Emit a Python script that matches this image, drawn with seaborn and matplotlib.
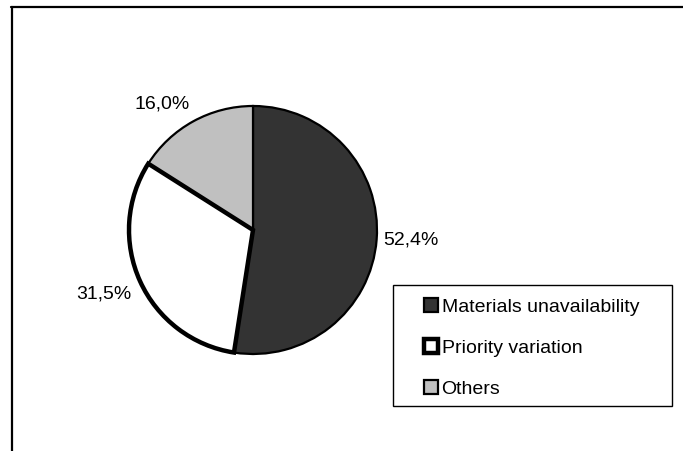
import matplotlib
matplotlib.use("Agg")
import matplotlib.pyplot as plt
from matplotlib.lines import Line2D
from matplotlib.patches import Rectangle
import seaborn as sns

categories = ["Materials unavailability", "Priority variation", "Others"]
values = [52.4, 31.5, 16.0]
value_labels = ["52,4%", "31,5%", "16,0%"]
colors = ["#333333", "#ffffff", "#c0c0c0"]
edge_widths = [1.6, 3.2, 1.6]

sns.set_theme(style="white")
plt.rcParams["font.family"] = ["Liberation Sans", "DejaVu Sans"]
plt.rcParams["text.color"] = "black"

W, H = 683, 451
fig = plt.figure(figsize=(W / 100, H / 100), dpi=100)
fig.patch.set_facecolor("white")

# outer frame (top and left lines only visible)
fig.add_artist(Line2D([11 / W, 1.01], [1 - 6.5 / H, 1 - 6.5 / H], color="black", lw=1.6,
                      transform=fig.transFigure))
fig.add_artist(Line2D([11.5 / W, 11.5 / W], [1 - 6.5 / H, -0.01], color="black", lw=1.6,
                      transform=fig.transFigure))

R = 124.0
span = 1.3
size = 2 * span * R
cx, cy = 253, H - 230
ax = fig.add_axes([(cx - size / 2) / W, (cy - size / 2) / H, size / W, size / H])

wedges, texts = ax.pie(values, labels=value_labels, colors=colors, startangle=90,
                       counterclock=False, labeldistance=1.05,
                       wedgeprops=dict(edgecolor="black"),
                       textprops=dict(fontsize=14, color="black"))
for w, lw in zip(wedges, edge_widths):
    w.set_linewidth(lw)
    w.set_clip_on(False)
wedges[1].set_zorder(3)
# small nudges to follow the original label placement
x1, y1 = texts[1].get_position()
texts[1].set_position((x1 - 0.02, y1 - 0.08))
x2, y2 = texts[2].get_position()
texts[2].set_position((x2, y2 + 0.1))
ax.set_xlim(-span, span)
ax.set_ylim(-span, span)
ax.set_aspect("equal")
ax.axis("off")

# legend box
fig.add_artist(Rectangle((393 / W, 1 - 406 / H), (672 - 393) / W, (406 - 285) / H,
                         transform=fig.transFigure, facecolor="white", edgecolor="black",
                         lw=1.0, zorder=4))
leg = fig.legend(wedges, categories, loc="center left",
                 bbox_to_anchor=(424 / W, 1 - 348 / H), frameon=False,
                 fontsize=14, handlelength=0.7, handleheight=0.7,
                 handletextpad=0.2, labelspacing=1.2, borderpad=0, borderaxespad=0,
                 labelcolor="black")
leg.set_zorder(5)

fig.savefig("out.png", dpi=100, facecolor="white")
